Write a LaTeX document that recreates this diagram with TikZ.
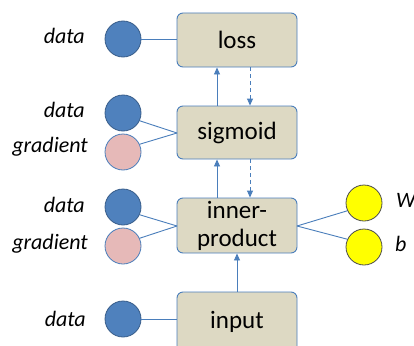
\documentclass[tikz,border=0pt]{standalone}
\usepackage{fontspec}
\setmainfont{Carlito}
\usetikzlibrary{arrows.meta}
\definecolor{boxfill}{HTML}{DDD9C3}
\definecolor{edgeblue}{HTML}{4A7EBB}
\definecolor{blobblue}{HTML}{4F81BD}
\definecolor{blobedge}{HTML}{385D8A}
\definecolor{blobpink}{HTML}{E6B9B8}
\definecolor{pinkedge}{HTML}{4A7EBB}
\definecolor{blobyellow}{HTML}{FFFF00}
\begin{document}
\begin{tikzpicture}[x=1pt,y=-1pt,
  layer/.style={draw=edgeblue, line width=0.9pt, fill=boxfill, rounded corners=6pt,
    minimum width=120pt, inner sep=0pt, align=center, font=\fontsize{25}{29}\selectfont},
  blob/.style={circle, minimum size=36pt, inner sep=0pt, line width=0.8pt},
  bluedot/.style={blob, fill=blobblue, draw=blobedge},
  pinkdot/.style={blob, fill=blobpink, draw=pinkedge},
  yellowdot/.style={blob, fill=blobyellow, draw=black!70},
  lbl/.style={font=\fontsize{22}{26}\selectfont\itshape, inner sep=0pt},
  link/.style={draw=edgeblue, line width=0.9pt},
  fwd/.style={link, -{Triangle[width=6pt,length=7pt]}},
  bwd/.style={link, dashed, dash pattern=on 4pt off 3pt, -{Triangle[width=6pt,length=7pt]}}]
\useasboundingbox (0,0) rectangle (414,345);
% boxes
\node[layer, minimum height=54pt] (loss) at (237,40) {loss};
\node[layer, minimum height=53pt] (sig) at (237,132.5) {sigmoid};
\node[layer, minimum height=55pt] (ip) at (237,225.5) {inner-\\[-1pt]product};
\node[layer, minimum height=60pt] (inp) at (237,322) {input};
% circles
\node[bluedot] (d1) at (123,39) {};
\node[bluedot] (d2) at (123,113) {};
\node[pinkdot] (g2) at (123,152) {};
\node[bluedot] (d3) at (123,207) {};
\node[pinkdot] (g3) at (123,246) {};
\node[bluedot] (d4) at (123,319) {};
\node[yellowdot] (w) at (364,203) {};
\node[yellowdot] (b) at (364,247) {};
% labels
\node[lbl, anchor=east] (l1) at (85,36) {data};
\node[lbl, anchor=east] (l2) at (85,110) {data};
\node[lbl, anchor=east] (l3) at (88,147) {gradient};
\node[lbl, anchor=east] (l4) at (85,205) {data};
\node[lbl, anchor=east] (l5) at (88,244) {gradient};
\node[lbl, anchor=east] (l6) at (86,319) {data};
\node[lbl, anchor=west] (lw) at (396,200) {W};
\node[lbl, anchor=west] (lb) at (395,244) {b};
% links
\coordinate (sl) at (177,133);
\coordinate (il) at (177,226);
\coordinate (ir) at (297,226);
\draw[link] (d1.east) -- (loss.west |- d1.east);
\draw[link] (d4.east) -- (inp.west |- d4.east);
\draw[link] (d2.-25) -- (sl);
\draw[link] (g2.25) -- (sl);
\draw[link] (d3.-25) -- (il);
\draw[link] (g3.25) -- (il);
\draw[link] (w.205) -- (ir);
\draw[link] (b.155) -- (ir);
% arrows
\draw[fwd] (sig.north -| 217,0) -- (loss.south -| 217,0);
\draw[bwd] (loss.south -| 250,0) -- (sig.north -| 250,0);
\draw[fwd] (ip.north -| 217,0) -- (sig.south -| 217,0);
\draw[bwd] (sig.south -| 250,0) -- (ip.north -| 250,0);
\draw[fwd] (inp.north) -- (ip.south);
\end{tikzpicture}
\end{document}
